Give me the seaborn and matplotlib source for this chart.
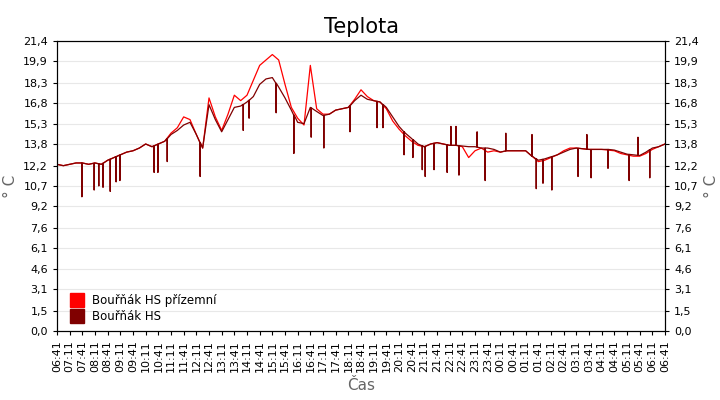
import numpy as np
import pandas as pd
import seaborn as sns
import matplotlib
matplotlib.use("Agg")
import matplotlib.pyplot as plt
from matplotlib.lines import Line2D

# minutes from 06:41, every 15 min
minutes = list(range(0, 1441, 15))
dark = [12.3, 12.2, 12.3, 12.4, 12.4, 12.3, 12.4, 12.3, 12.6, 12.8, 13.0, 13.2, 13.3, 13.5,
        13.8, 13.6, 13.8, 14.0, 14.5, 14.8, 15.2, 15.4, 14.5, 13.5, 16.7, 15.6,
        14.7, 15.6, 16.5, 16.6, 16.9, 17.3, 18.2, 18.6, 18.7, 18.0, 17.2, 16.3, 15.4, 15.3,
        16.5, 16.2, 15.9, 16.0, 16.3, 16.4, 16.5, 17.0, 17.4, 17.1, 17.0, 16.9, 16.5, 15.8,
        15.1, 14.6, 14.2, 13.8, 13.6, 13.8, 13.9, 13.8, 13.7, 13.7, 13.65, 13.6, 13.6, 13.5,
        13.5, 13.4, 13.2, 13.3, 13.3, 13.3, 13.3, 12.9, 12.6, 12.7, 12.85, 13.0, 13.2, 13.4,
        13.5, 13.45, 13.4, 13.4, 13.4, 13.4, 13.35, 13.2, 13.05, 13.0, 12.95, 13.2, 13.5, 13.6, 13.8]
red = [12.3, 12.2, 12.3, 12.4, 12.4, 12.3, 12.4, 12.3, 12.6, 12.8, 13.0, 13.2, 13.3, 13.5,
       13.8, 13.6, 13.8, 14.0, 14.6, 15.0, 15.8, 15.6, 14.5, 13.5, 17.2, 15.8,
       14.8, 16.0, 17.4, 17.0, 17.4, 18.5, 19.6, 20.0, 20.4, 20.0, 18.2, 16.5, 15.7, 15.2,
       19.6, 16.4, 16.0, 16.0, 16.3, 16.4, 16.5, 17.1, 17.8, 17.3, 17.0, 16.9, 16.4, 15.5,
       14.9, 14.4, 14.0, 13.7, 13.6, 13.8, 13.9, 13.8, 13.7, 13.7, 13.6, 12.8, 13.3, 13.5,
       13.2, 13.3, 13.2, 13.3, 13.3, 13.3, 13.3, 12.9, 12.5, 12.6, 12.8, 13.0, 13.3, 13.5,
       13.5, 13.45, 13.4, 13.4, 13.4, 13.35, 13.3, 13.1, 13.0, 12.9, 12.9, 13.1, 13.4, 13.6, 13.8]
spike_min = [59, 88, 99, 109, 126, 140, 149, 230, 239, 261, 339, 441, 455, 519, 561, 602, 632,
             694, 758, 772, 822, 843, 865, 872, 893, 924, 933, 945, 952, 995, 1014, 1063, 1125,
             1135, 1151, 1172, 1234, 1255, 1265, 1305, 1355, 1376, 1404]
spike_val = [9.9, 10.4, 10.7, 10.6, 10.3, 11.0, 11.1, 11.7, 11.7, 12.5, 11.4, 14.8, 15.7, 16.1,
             13.1, 14.3, 13.5, 14.7, 15.0, 15.0, 13.0, 12.8, 11.9, 11.4, 11.9, 11.7, 15.1, 15.1,
             11.5, 14.7, 11.1, 14.6, 14.5, 10.5, 10.9, 10.4, 11.4, 14.5, 11.3, 12.0, 11.1, 14.3, 11.3]
yticks = [0.0, 1.5, 3.1, 4.6, 6.1, 7.6, 9.2, 10.7, 12.2, 13.8, 15.3, 16.8, 18.3, 19.9, 21.4]
name_red = "Bouřňák HS přízemní"
name_dark = "Bouřňák HS"

# dark series with spikes inserted
t_d = list(minutes)
v_d = list(dark)
for m, v in zip(spike_min, spike_val):
    b = float(np.interp(m, minutes, dark))
    t_d += [m - 0.5, m, m + 0.5]
    v_d += [b, v, b]
df_dark = pd.DataFrame({"t": t_d, "v": v_d}).sort_values("t")
df_dark["s"] = name_dark
df_red = pd.DataFrame({"t": minutes, "v": red, "s": name_red})
df = pd.concat([df_red, df_dark])

plt.rcParams["font.family"] = "DejaVu Sans"
fig = plt.figure(figsize=(7.2, 4.0), dpi=100)
ax = fig.add_axes([57/720, 1 - 331/400, 608/720, 290/400])
sns.lineplot(data=df, x="t", y="v", hue="s", palette={name_red: "#ff0000", name_dark: "#800000"},
             sort=False, estimator=None, lw=0.9, legend=False, ax=ax)
ax.set_xlim(0, 1440)
ax.set_ylim(0, 21.4)
ax.set_yticks(yticks)
ax.set_yticklabels([f"{y:.1f}".replace(".", ",") for y in yticks], fontsize=8)
ax.grid(axis="y", color="#e8e8e8", lw=0.8)
ax.set_axisbelow(True)
xt = list(range(0, 1441, 30))
labels = []
for m in xt:
    tot = (6 * 60 + 41 + m) % 1440
    labels.append(f"{tot // 60:02d}:{tot % 60:02d}")
ax.set_xticks(xt)
ax.set_xticklabels(labels, rotation=90, fontsize=8)
ax.tick_params(length=3)
ax.set_xlabel("Čas", fontsize=11, color="#666666")
ax.set_ylabel("° C", fontsize=11, color="#666666")
ax2 = ax.twinx()
ax2.set_ylim(0, 21.4)
ax2.set_yticks(yticks)
ax2.set_yticklabels([f"{y:.1f}".replace(".", ",") for y in yticks], fontsize=8)
ax2.set_ylabel("° C", fontsize=11, color="#666666")
ax2.tick_params(length=3)
ax.set_title("Teplota", fontsize=15, pad=6)
h = [Line2D([], [], marker="s", ls="", color="#ff0000", markersize=10),
     Line2D([], [], marker="s", ls="", color="#800000", markersize=10)]
ax.legend(h, [name_red, name_dark], loc="lower left", frameon=False, fontsize=8.5,
          handletextpad=0.3, labelspacing=0.2, borderaxespad=0.3)
fig.savefig("out.png", dpi=100)
